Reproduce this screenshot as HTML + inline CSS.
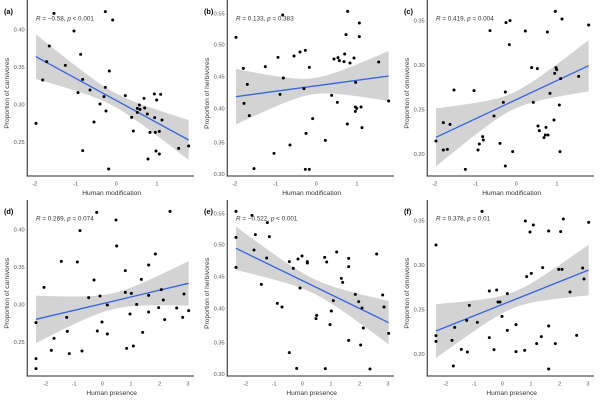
<!DOCTYPE html>
<html><head><meta charset="utf-8"><style>body{margin:0;background:#fff}svg{display:block}text{font-family:"Liberation Sans",sans-serif}</style></head>
<body><svg id="s" width="600" height="400" viewBox="0 0 600 400" xmlns="http://www.w3.org/2000/svg"></svg>
<script>
const P=[
{ox:0,oy:0,lab:"(a)",r:"R = \u22120.58, ",pv:"p < 0.001",xt:"Human modification",yt:"Proportion of carnivores",
xs:[[104,"-2"],[227,"-1"],[349,"0"],[471,"1"]],ys:[[88,"0.40"],[201,"0.35"],[313,"0.30"],[426,"0.25"]],
L:[108,170,566,420],hl:67,hr:60,h0:21,
pts:[[108,370],[162,40],[316,35],[338,60],[222,93],[148,138],[242,163],[140,185],[128,240],[196,196],[248,238],[234,278],[270,270],[328,213],[316,262],[300,312],[312,290],[318,333],[282,366],[248,452],[326,507],[376,287],[395,352],[400,393],[412,325],[418,315],[432,295],[434,324],[442,342],[450,397],[444,477],[463,282],[464,353],[466,397],[468,453],[470,300],[482,283],[486,360],[478,462],[478,394],[536,445],[566,438],[412,337],[420,328]]},
{ox:200,oy:0,lab:"(b)",r:"R = 0.133, ",pv:"p = 0.383",xt:"Human modification",yt:"Proportion of herbivores",
xs:[[104,"-2"],[227,"-1"],[349,"0"],[471,"1"]],ys:[[40,"0.55"],[134,"0.50"],[229,"0.45"],[325,"0.40"],[428,"0.35"],[522,"0.30"]],
L:[108,290,566,228],hl:83,hr:75,h0:24,
pts:[[108,112],[248,45],[443,34],[478,69],[438,104],[478,110],[130,205],[196,200],[234,172],[142,253],[250,234],[132,310],[148,347],[240,283],[282,168],[300,156],[316,151],[328,202],[312,266],[338,356],[318,400],[270,435],[222,460],[162,506],[316,508],[328,508],[376,421],[395,286],[402,177],[414,173],[412,307],[418,182],[432,185],[434,162],[442,372],[450,189],[462,174],[467,247],[466,321],[466,334],[470,325],[483,321],[486,383],[536,186],[566,303]]},
{ox:400,oy:0,lab:"(c)",r:"R = 0.419, ",pv:"p = 0.004",xt:"Human modification",yt:"Proportion of omnivores",
xs:[[104,"-2"],[227,"-1"],[349,"0"],[471,"1"]],ys:[[62,"0.35"],[195,"0.30"],[328,"0.25"],[462,"0.20"]],
L:[108,412,566,197],hl:87,hr:77,h0:25,
pts:[[108,423],[130,368],[130,450],[142,448],[150,373],[162,270],[196,508],[222,272],[234,450],[238,432],[248,410],[250,420],[270,92],[282,348],[300,430],[310,307],[316,276],[318,68],[316,498],[328,134],[330,62],[338,455],[376,93],[395,203],[400,307],[412,206],[414,378],[418,392],[432,413],[436,405],[438,382],[442,96],[444,405],[450,280],[462,360],[464,220],[466,34],[468,203],[470,209],[478,315],[480,455],[482,236],[486,57],[536,229],[566,75]]},
{ox:0,oy:200,lab:"(d)",r:"R = 0.269, ",pv:"p = 0.074",xt:"Human presence",yt:"Proportion of carnivores",
xs:[[137,"-2"],[222,"-1"],[307,"0"],[393,"1"],[479,"2"],[564,"3"]],ys:[[88,"0.40"],[201,"0.35"],[313,"0.30"],[426,"0.25"]],
L:[108,358,566,250],hl:71,hr:67,h0:24,
pts:[[108,368],[108,476],[108,506],[132,262],[162,415],[154,451],[184,184],[200,352],[202,394],[208,461],[232,186],[240,92],[246,453],[266,293],[282,240],[290,37],[292,393],[300,288],[306,366],[322,402],[322,315],[348,60],[350,138],[376,212],[376,277],[380,445],[390,342],[394,280],[400,438],[410,313],[424,238],[428,397],[446,195],[446,286],[446,336],[466,162],[476,323],[484,269],[490,300],[494,359],[510,34],[530,324],[548,352],[552,282],[566,332]]},
{ox:200,oy:200,lab:"(e)",r:"R = \u22120.522, ",pv:"p < 0.001",xt:"Human presence",yt:"Proportion of herbivores",
xs:[[137,"-2"],[222,"-1"],[307,"0"],[393,"1"],[479,"2"],[564,"3"]],ys:[[40,"0.55"],[134,"0.50"],[229,"0.45"],[325,"0.40"],[428,"0.35"],[522,"0.30"]],
L:[108,145,566,368],hl:65,hr:65,h0:22,
pts:[[108,34],[108,112],[108,202],[156,46],[162,150],[166,104],[200,174],[202,68],[208,110],[184,253],[232,310],[246,321],[268,185],[280,205],[290,505],[294,177],[306,168],[300,264],[322,185],[322,189],[268,458],[348,356],[350,346],[376,506],[374,172],[380,186],[390,374],[394,333],[400,302],[410,156],[424,235],[428,247],[446,175],[446,200],[446,421],[466,283],[476,305],[482,435],[486,324],[490,384],[510,507],[530,162],[548,285],[552,321],[566,400]]},
{ox:400,oy:200,lab:"(f)",r:"R = 0.378, ",pv:"p = 0.01",xt:"Human presence",yt:"Proportion of omnivores",
xs:[[137,"-2"],[222,"-1"],[307,"0"],[393,"1"],[479,"2"],[564,"3"]],ys:[[62,"0.35"],[195,"0.30"],[328,"0.25"],[462,"0.20"]],
L:[108,393,566,210],hl:81,hr:76,h0:24,
pts:[[108,135],[108,407],[108,424],[156,421],[164,382],[160,498],[184,448],[200,361],[202,456],[208,316],[232,367],[246,34],[268,273],[268,413],[282,449],[290,270],[294,306],[300,306],[306,349],[322,281],[322,391],[348,374],[348,455],[374,451],[376,63],[380,230],[390,96],[394,220],[400,75],[410,431],[424,410],[428,203],[446,93],[446,378],[446,507],[466,431],[476,208],[482,95],[486,208],[490,57],[510,276],[530,406],[548,204],[552,237],[566,67]]}];
let h="";
for(const p of P){
 let g=`<g transform="translate(${p.ox},${p.oy}) scale(0.33333)">`;
 const [x1,y1,x2,y2]=p.L, xm=340;
 // band: hw^2 = h0^2 + k*(x-xm)^2, separate k for each side
 const kl=(p.hl*p.hl-p.h0*p.h0)/((x1-xm)**2), kr=(p.hr*p.hr-p.h0*p.h0)/((x2-xm)**2);
 const top=[],bot=[];
 for(let x=x1;x<=x2+0.01;x+=(x2-x1)/40){
  const c=y1+(y2-y1)*(x-x1)/(x2-x1);
  const k=x<xm?kl:kr; const hw=Math.sqrt(p.h0*p.h0+k*(x-xm)**2);
  top.push(`${x.toFixed(1)},${(c-hw).toFixed(1)}`);bot.unshift(`${x.toFixed(1)},${(c+hw).toFixed(1)}`);
 }
 g+=`<polygon points="${top.concat(bot).join(" ")}" fill="#d3d3d3"/>`;
 g+=`<line x1="${x1}" y1="${y1}" x2="${x2}" y2="${y2}" stroke="#3366e6" stroke-width="4"/>`;
 for(const [x,y] of p.pts) g+=`<circle cx="${x}" cy="${y}" r="4.5" fill="#000"/>`;
 g+=`<line x1="82" y1="0" x2="82" y2="530" stroke="#555" stroke-width="4"/><line x1="80" y1="528" x2="582" y2="528" stroke="#555" stroke-width="4"/>`;
 for(const [x,t] of p.xs) g+=`<text x="${x}" y="556" font-size="17" fill="#555" text-anchor="middle">${t}</text>`;
 for(const [y,t] of p.ys) g+=`<text x="74" y="${y+6}" font-size="17" fill="#555" text-anchor="end">${t}</text>`;
 g+=`<text x="335" y="585" font-size="20" fill="#333" text-anchor="middle">${p.xt}</text>`;
 g+=`<text transform="translate(27,280) rotate(-90)" font-size="20" fill="#333" text-anchor="middle">${p.yt}</text>`;
 g+=`<text x="12" y="42" font-size="22" font-weight="bold" fill="#000">${p.lab}</text>`;
 g+=`<text x="108" y="62" font-size="19" fill="#333"><tspan font-style="italic">R</tspan>${p.r.slice(1).replace(/, $/,", ")}<tspan font-style="italic">p</tspan>${p.pv.slice(1)}</text>`;
 g+="</g>";h+=g;
}
document.getElementById("s").innerHTML=h;
</script></body></html>
